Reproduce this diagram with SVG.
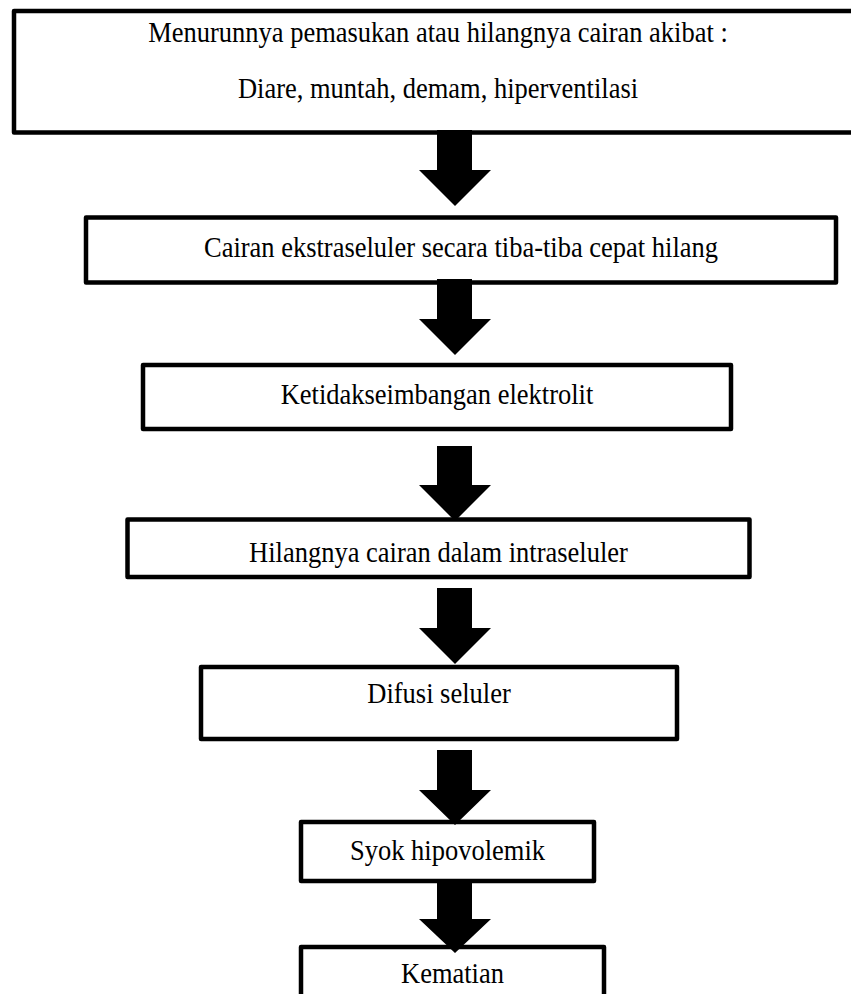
<svg xmlns="http://www.w3.org/2000/svg" width="851" height="994" viewBox="0 0 851 994">
<style>
.box{fill:#fff;stroke:#000;stroke-width:4.5;stroke-linejoin:round}
.t{font-family:"Liberation Serif","Times New Roman",serif;font-size:26.5px;fill:#000;text-anchor:middle}
.arr{fill:#000;stroke:none}
</style>
<rect width="851" height="994" fill="#fff"/>
<g id="n1"><rect class="box" x="14" y="11" width="848" height="121.5"/>
<text class="t" transform="translate(438,42) scale(1,1.1)">Menurunnya pemasukan atau hilangnya cairan akibat :</text>
<text class="t" transform="translate(438,98) scale(1,1.1)">Diare, muntah, demam, hiperventilasi</text></g>
<g id="n2"><rect class="box" x="86" y="217.5" width="750" height="65"/>
<text class="t" transform="translate(461,257) scale(1,1.1)">Cairan ekstraseluler secara tiba-tiba cepat hilang</text></g>
<g id="n3"><rect class="box" x="143" y="365" width="588" height="64"/>
<text class="t" transform="translate(437,404) scale(1,1.1)">Ketidakseimbangan elektrolit</text></g>
<g id="n4"><rect class="box" x="127.5" y="519.5" width="622" height="57.5"/>
<text class="t" transform="translate(438.5,562) scale(1,1.1)">Hilangnya cairan dalam intraseluler</text></g>
<g id="n5"><rect class="box" x="201" y="667" width="476" height="72"/>
<text class="t" transform="translate(439,703) scale(1,1.1)">Difusi seluler</text></g>
<g id="n6"><rect class="box" x="301" y="822" width="293" height="59"/>
<text class="t" transform="translate(447.5,860) scale(1,1.1)">Syok hipovolemik</text></g>
<g id="n7"><rect class="box" x="301" y="947" width="303" height="100"/>
<text class="t" transform="translate(452.5,983) scale(1,1.1)">Kematian</text></g>
<g id="connectors">
<polygon class="arr" points="437,130 472,130 472,170 491,170 455,206 419,170 437,170"/>
<polygon class="arr" points="437,279 472,279 472,319 491,319 455,355 419,319 437,319"/>
<polygon class="arr" points="437,446 472,446 472,485 491,485 455,521 419,485 437,485"/>
<polygon class="arr" points="437,588 472,588 472,628 491,628 455,664 419,628 437,628"/>
<polygon class="arr" points="437,750 472,750 472,790 491,790 455,825 419,790 437,790"/>
<polygon class="arr" points="437,881 472,881 472,919 491,919 455,953 419,919 437,919"/>
</g>
</svg>
